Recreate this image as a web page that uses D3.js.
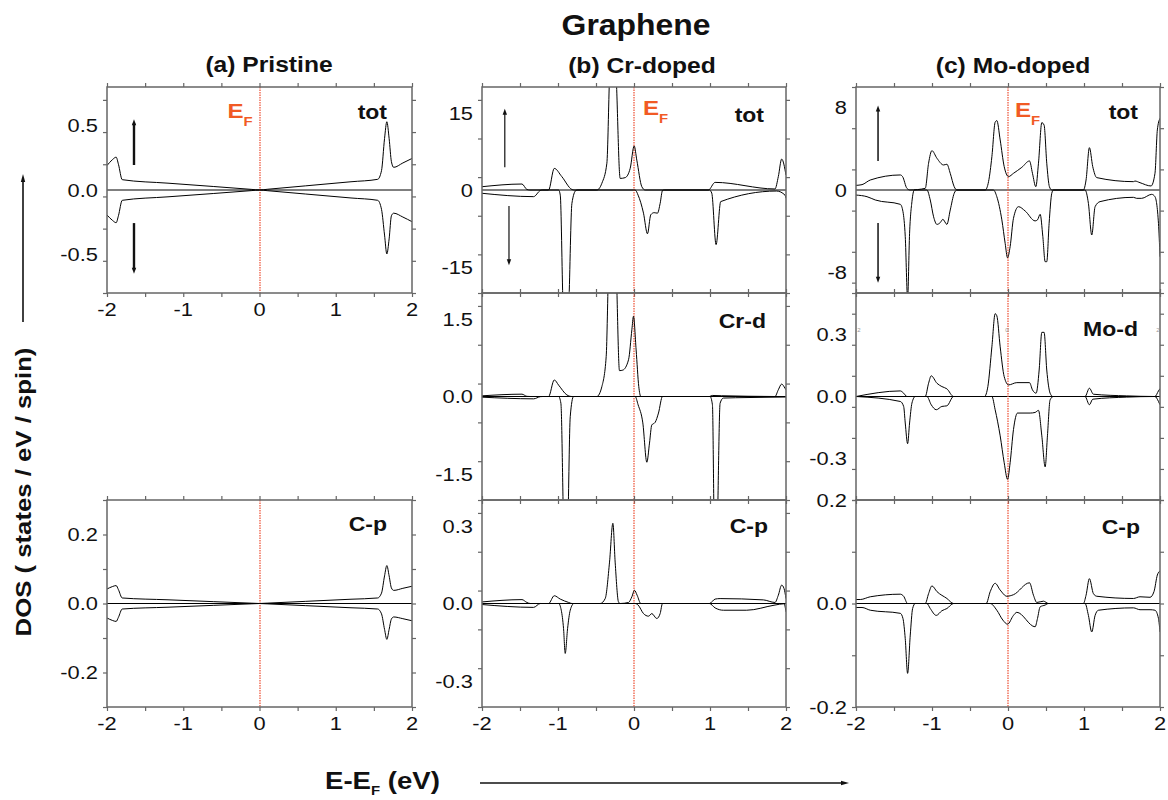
<!DOCTYPE html>
<html><head><meta charset="utf-8">
<script src="https://cdn.jsdelivr.net/npm/d3@7"></script>
<style>body{margin:0;background:#fff}svg{display:block}text{font-family:"Liberation Sans",Arial,sans-serif}</style>
</head><body>
<svg id="c" width="1168" height="800"></svg>
<script>
// ---------- data: [energy (eV), DOS] ----------
const xTicks = [-2,-1,0,1,2];
const aTotUp = [[-2,0.19],[-1.93,0.235],[-1.88,0.255],[-1.85,0.2],[-1.80,0.08],[-1.2,0.053],[-0.6,0.027],[-0.1,0.0045],[0,0],[0.1,0.0054],[0.6,0.032],[1.2,0.064],[1.55,0.083],[1.60,0.15],[1.64,0.4],[1.67,0.53],[1.70,0.4],[1.73,0.22],[1.76,0.176],[1.88,0.21],[2,0.245]];
const aTotDn = [[-2,-0.194],[-1.93,-0.235],[-1.88,-0.254],[-1.85,-0.2],[-1.80,-0.08],[-1.2,-0.053],[-0.6,-0.027],[-0.1,-0.0045],[0,0],[0.1,-0.0052],[0.6,-0.031],[1.2,-0.062],[1.55,-0.08],[1.60,-0.15],[1.64,-0.35],[1.67,-0.497],[1.70,-0.38],[1.73,-0.2],[1.76,-0.18],[1.88,-0.21],[2,-0.246]];
const aCpUp = [[-2,0.042],[-1.93,0.049],[-1.88,0.052],[-1.85,0.04],[-1.80,0.016],[-1.2,0.0107],[-0.6,0.0053],[-0.1,0.0009],[0,0],[0.1,0.001],[0.6,0.0062],[1.2,0.0124],[1.55,0.016],[1.60,0.03],[1.64,0.08],[1.67,0.11],[1.70,0.08],[1.73,0.045],[1.76,0.038],[1.88,0.044],[2,0.05]];
const aCpDn = [[-2,-0.042],[-1.93,-0.049],[-1.88,-0.052],[-1.85,-0.04],[-1.80,-0.016],[-1.2,-0.0107],[-0.6,-0.0053],[-0.1,-0.0009],[0,0],[0.1,-0.001],[0.6,-0.0062],[1.2,-0.0124],[1.55,-0.016],[1.60,-0.03],[1.64,-0.075],[1.67,-0.104],[1.70,-0.075],[1.73,-0.045],[1.76,-0.039],[1.88,-0.044],[2,-0.05]];

const bTotUp = [[-2,0.64],[-1.474,1.16],[-1.409,0.1],[-1.37,0],[-1.124,0],[-1.049,4.2],[-0.95,2.6],[-0.817,0.1],[-0.79,0],[-0.489,0],[-0.423,1.3],[-0.357,5.2],[-0.322,22],[-0.28,35],[-0.234,22],[-0.182,2.25],[-0.116,2.4],[-0.05,4.2],[0.002,8.56],[0.037,5.8],[0.103,0.64],[0.147,0],[0.979,0],[1.067,1.48],[1.855,0.2],[1.899,2.6],[1.943,6.0],[2.0,2.9]];
const bTotDn = [[-2,-0.64],[-1.321,-1.29],[-1.233,-0.1],[-1.2,0],[-0.992,0],[-0.97,-1.0],[-0.935,-22],[-0.9,-35],[-0.857,-22],[-0.817,-2.6],[-0.765,-0.1],[-0.74,0],[0.015,0],[0.054,-1.0],[0.125,-4.5],[0.177,-8.5],[0.221,-4.8],[0.265,-4.4],[0.309,-4.5],[0.344,-2.6],[0.375,-0.1],[0.40,0],[0.992,0],[1.023,-0.6],[1.080,-10.6],[1.141,-2.25],[1.877,-0.2],[1.987,-1.0],[2.0,-1.6]];
const bCrdUp = [[-2,0.013],[-1.474,0.045],[-1.409,0.003],[-1.365,0],[-1.124,0],[-1.049,0.32],[-0.992,0.22],[-0.883,0.03],[-0.817,0],[-0.489,0],[-0.423,0.19],[-0.366,0.77],[-0.335,2.5],[-0.28,4],[-0.234,2.5],[-0.191,0.5],[-0.147,0.51],[-0.072,0.71],[-0.028,1.29],[-0.007,1.55],[0.028,0.9],[0.063,0.19],[0.09,0],[0.992,0],[1.03,0.02],[1.15,0.015],[1.5,0.005],[1.855,0],[1.899,0.13],[1.943,0.24],[1.987,0.16],[2.0,0.13]];
const bCrdDn = [[-2,-0.013],[-1.321,-0.045],[-1.233,-0.003],[-1.2,0],[-0.992,0],[-0.962,-0.13],[-0.927,-2.5],[-0.9,-4],[-0.87,-2.5],[-0.839,-0.39],[-0.795,0],[0.015,0],[0.054,-0.16],[0.116,-0.51],[0.169,-1.27],[0.204,-0.9],[0.234,-0.55],[0.278,-0.5],[0.322,-0.32],[0.375,0],[1.001,0],[1.032,-0.16],[1.054,-2.5],[1.075,-4],[1.098,-2.5],[1.133,-0.13],[1.176,-0.03],[1.5,-0.02],[2.0,-0.01]];
const bCpUp = [[-2,0.006],[-1.474,0.015],[-1.409,0.004],[-1.365,0],[-1.124,0],[-1.049,0.03],[-0.97,0.017],[-0.86,0.004],[-0.817,0],[-0.445,0],[-0.379,0.019],[-0.322,0.16],[-0.278,0.31],[-0.248,0.16],[-0.204,0.006],[-0.182,0],[-0.072,0.004],[-0.028,0.026],[0.006,0.051],[0.041,0.032],[0.09,0],[0.992,0],[1.067,0.017],[1.133,0.019],[1.702,0.014],[1.855,0.004],[1.899,0.032],[1.943,0.071],[1.974,0.058],[2.0,0.019]];
const bCpDn = [[-2,-0.004],[-1.321,-0.015],[-1.233,0],[-0.992,0],[-0.957,-0.026],[-0.927,-0.097],[-0.905,-0.193],[-0.874,-0.097],[-0.839,-0.026],[-0.79,0],[0.015,0],[0.054,-0.006],[0.125,-0.039],[0.191,-0.049],[0.234,-0.039],[0.3,-0.058],[0.344,-0.039],[0.375,0],[0.992,0],[1.067,-0.017],[1.176,-0.026],[1.483,-0.026],[1.855,-0.006],[1.974,-0.001],[2.0,-0.032]];

const cTotUp = [[-2,0.45],[-1.921,0.52],[-1.812,0.97],[-1.417,1.46],[-1.387,1.3],[-1.33,0.16],[-1.29,0],[-1.089,0.16],[-1.045,2.6],[-1.001,3.82],[-0.935,3.08],[-0.848,2.43],[-0.804,2.5],[-0.76,1.62],[-0.708,0.32],[-0.673,0],[-0.3,0],[-0.256,0.81],[-0.212,3.24],[-0.169,6.58],[-0.147,6.74],[-0.103,4.86],[-0.05,2.27],[0.007,1.3],[0.072,1.62],[0.182,2.2],[0.283,2.82],[0.322,1.62],[0.366,0.32],[0.401,2.6],[0.445,6.54],[0.475,6.3],[0.51,2.6],[0.545,0.32],[0.576,0],[0.992,0],[1.027,0.97],[1.071,4.11],[1.115,2.27],[1.168,1.2],[1.65,0.81],[1.671,0.87],[1.737,0.71],[1.882,0.39],[1.934,1.62],[1.965,5.83],[2.0,6.96]];
const cTotDn = [[-2,-0.49],[-1.855,-0.65],[-1.746,-0.97],[-1.417,-1.39],[-1.382,-2.1],[-1.352,-4.5],[-1.321,-10.5],[-1.295,-4.2],[-1.264,-1.13],[-1.233,0],[-1.067,0],[-1.023,-0.97],[-0.979,-2.6],[-0.935,-3.34],[-0.892,-3.17],[-0.857,-2.85],[-0.804,-3.34],[-0.76,-1.94],[-0.708,-0.32],[-0.673,0],[-0.191,0],[-0.147,-0.65],[-0.081,-2.9],[-0.037,-5.2],[-0.006,-6.58],[0.028,-5.5],[0.072,-2.75],[0.138,-1.62],[0.226,-2.04],[0.357,-3.0],[0.388,-2.9],[0.423,-2.36],[0.458,-4.5],[0.489,-6.96],[0.51,-6.96],[0.541,-3.24],[0.576,-0.32],[0.598,0],[1.014,0],[1.058,-1.3],[1.102,-4.37],[1.146,-1.62],[1.211,-1.13],[1.65,-0.71],[1.693,-0.81],[1.759,-0.81],[1.891,-0.42],[1.934,-0.65],[1.98,-3.24],[2.0,-6.48]];
const cModUp = [[-2,0],[-1.417,0.027],[-1.373,0.016],[-1.33,0],[-1.089,0],[-1.045,0.064],[-1.01,0.10],[-0.935,0.064],[-0.87,0.048],[-0.804,0.037],[-0.716,0],[-0.309,0],[-0.265,0.048],[-0.212,0.24],[-0.169,0.40],[-0.147,0.39],[-0.103,0.24],[-0.05,0.096],[0.007,0.056],[0.116,0.067],[0.283,0.067],[0.322,0.032],[0.37,0.016],[0.41,0.128],[0.445,0.31],[0.475,0.31],[0.51,0.128],[0.554,0.016],[0.589,0],[1.014,0],[1.071,0.04],[1.124,0.011],[1.562,0.003],[1.934,0],[1.98,0.027],[2.0,0.038]];
const cModDn = [[-2,0],[-1.417,-0.024],[-1.373,-0.048],[-1.352,-0.128],[-1.321,-0.228],[-1.295,-0.128],[-1.264,-0.032],[-1.22,0],[-1.067,0],[-1.01,-0.04],[-0.944,-0.064],[-0.87,-0.048],[-0.804,-0.045],[-0.716,0],[-0.212,0],[-0.169,-0.064],[-0.103,-0.19],[-0.05,-0.32],[-0.006,-0.40],[0.028,-0.32],[0.072,-0.16],[0.125,-0.08],[0.292,-0.08],[0.357,-0.077],[0.401,-0.067],[0.445,-0.19],[0.489,-0.34],[0.519,-0.19],[0.554,-0.016],[0.598,0],[1.014,0],[1.071,-0.04],[1.115,-0.013],[1.562,-0.003],[1.934,0],[1.98,-0.024],[2.0,-0.04]];
const cCpUp = [[-2,0.0077],[-1.943,0.0077],[-1.812,0.013],[-1.417,0.018],[-1.373,0.014],[-1.321,0],[-1.089,0],[-1.045,0.019],[-1.001,0.034],[-0.935,0.023],[-0.804,0.0097],[-0.716,0],[-0.287,0],[-0.234,0.023],[-0.169,0.039],[-0.103,0.026],[-0.015,0.014],[0.072,0.017],[0.283,0.04],[0.335,0.016],[0.379,0.002],[0.467,0.0045],[0.532,0],[0.992,0],[1.027,0.016],[1.071,0.048],[1.124,0.019],[1.168,0.014],[1.65,0.0097],[1.737,0.013],[1.869,0.012],[1.921,0.023],[1.965,0.055],[2.0,0.063]];
const cCpDn = [[-2,-0.0077],[-1.921,-0.0077],[-1.812,-0.013],[-1.417,-0.019],[-1.382,-0.029],[-1.352,-0.068],[-1.321,-0.135],[-1.286,-0.061],[-1.255,-0.0097],[-1.22,0],[-1.067,0],[-1.023,-0.0097],[-0.944,-0.023],[-0.87,-0.014],[-0.804,-0.0097],[-0.716,0],[-0.234,0],[-0.147,-0.013],[-0.068,-0.032],[-0.006,-0.04],[0.072,-0.023],[0.116,-0.017],[0.357,-0.045],[0.388,-0.029],[0.423,-0.0065],[0.489,-0.003],[0.532,0],[1.014,0],[1.058,-0.023],[1.102,-0.055],[1.146,-0.023],[1.19,-0.013],[1.65,-0.0084],[1.737,-0.012],[1.869,-0.012],[1.934,-0.013],[1.98,-0.029],[2.0,-0.055]];

// y-axis labelled ticks per panel
const aTotTicks = [-0.5,0,0.5], aCpTicks = [-0.2,0,0.2];
const bTotTicks = [-15,0,15], bCrdTicks = [-1.5,0,1.5], bCpTicks = [-0.3,0,0.3];
const cTotTicks = [-8,0,8], cModTicks = [-0.3,0,0.3], cCpTicks = [-0.2,0,0.2];

// ---------- layout ----------
const svg = d3.select('#c');
const SX = 1.15;
const cols = [[107,412],[482,786],[856,1160]];
const rows = [[87,293],[293,500],[500,707]];
const EF_COLOR = '#f15a24';
const EF_LINE = '#ee5a40';
const FRAME = '#666';

function txt(g, x, y, s, size, o={}) {
  const t = g.append('text')
    .attr('transform', `translate(${x},${y}) scale(${o.sx||SX},1)`)
    .attr('font-size', size)
    .attr('font-weight', o.bold ? 'bold' : 'normal')
    .attr('text-anchor', o.anchor || 'start')
    .attr('fill', o.fill || '#111')
    .text(s);
  if (o.dy) t.attr('dy', o.dy);
  return t;
}
const fmt = (dec) => v => (v === 0 ? (dec ? (0).toFixed(dec) : '0') : v.toFixed(dec)).replace('\u2212','-');

svg.append('defs');
let clipId = 0;

function panel(o) {
  const [x0,x1] = cols[o.col], [y0,y1] = rows[o.row];
  const x = d3.scaleLinear().domain([-2,2]).range([x0,x1]);
  const y = d3.scaleLinear().domain([-o.ymax,o.ymax]).range([y1,y0]);
  const g = svg.append('g');
  const id = 'clip' + (clipId++);
  svg.select('defs').append('clipPath').attr('id',id).append('rect')
    .attr('x',x0).attr('y',y0).attr('width',x1-x0).attr('height',y1-y0);
  const yT = d3.range(-o.ymax, o.ymax + o.ystep/2, o.ystep).map(v => +v.toFixed(6));
  const xT = d3.range(-2, 2.25, 0.5);
  const styleAxis = a => { a.select('.domain').remove(); a.selectAll('line').attr('stroke',FRAME).attr('stroke-width',1.2); };
  g.append('g').attr('transform',`translate(${x0},0)`).call(d3.axisLeft(y).tickValues(yT).tickSize(4).tickFormat('')).call(styleAxis);
  g.append('g').attr('transform',`translate(${x1},0)`).call(d3.axisRight(y).tickValues(yT).tickSize(4).tickFormat('')).call(styleAxis);
  g.append('g').attr('transform',`translate(0,${y1})`).call(d3.axisBottom(x).tickValues(xT).tickSize(4).tickFormat('')).call(styleAxis);
  g.append('g').attr('transform',`translate(0,${y0})`).call(d3.axisTop(x).tickValues(xT).tickSize(4).tickFormat('')).call(styleAxis);
  // zero line
  g.append('line').attr('x1',x0).attr('x2',x1).attr('y1',y(0)).attr('y2',y(0)).attr('stroke','#000').attr('stroke-width',1);
  // Fermi level
  const xe = Math.round(x(0));
  g.append('line').attr('x1',xe).attr('x2',xe).attr('y1',y0).attr('y2',y1)
    .attr('stroke',EF_LINE).attr('stroke-width',1.3).attr('stroke-dasharray','1.5,1');
  // curves
  const line = d3.line().x(d => x(d[0])).y(d => y(d[1])).curve(d3.curveMonotoneX);
  const cg = g.append('g').attr('clip-path',`url(#${id})`);
  [o.up, o.dn].forEach(s => cg.append('path').datum(s).attr('d',line).attr('fill','none').attr('stroke','#000').attr('stroke-width',1));
  // frame
  g.append('rect').attr('x',x0).attr('y',y0).attr('width',x1-x0).attr('height',y1-y0)
    .attr('fill','none').attr('stroke',FRAME).attr('stroke-width',1.5);
  // y tick labels
  o.ylabels.forEach(v => txt(g, x0-9, y(v), fmt(o.dec)(v), 19, {anchor:'end', dy:'0.36em'}));
  // x tick labels
  if (o.xlab) xTicks.forEach(v => txt(g, x(v), y1+23, String(v), 19, {anchor:'middle'}));
  // panel label
  txt(g, x1-o.lr, o.lby, o.label, 20, {anchor:'end', bold:true});
  if (o.ef) {
    const t = txt(g, x(0)+o.ef[0], o.ef[1], 'E', 21, {bold:true, fill:EF_COLOR});
    t.append('tspan').attr('font-size',13).attr('dy',8).text('F');
  }
  if (o.arrows) {
    const ar = o.arrows;
    const draw = (e, v1, v2, w) => {
      const xa = x(e), ya = y(v1), yb = y(v2), dir = Math.sign(yb - ya);
      g.append('line').attr('x1',xa).attr('x2',xa).attr('y1',ya).attr('y2',yb - dir*4).attr('stroke','#111').attr('stroke-width',w);
      g.append('path').attr('d',`M${xa},${yb} L${xa-2.2},${yb-dir*6} L${xa+2.2},${yb-dir*6} Z`).attr('fill','#111');
    };
    draw(ar.up[0], ar.up[1], ar.up[2], ar.w);
    draw(ar.dn[0], ar.dn[1], ar.dn[2], ar.w);
  }
  return {g,x,y};
}

panel({col:0,row:0,ymax:0.8,ystep:0.25,up:aTotUp,dn:aTotDn,ylabels:aTotTicks,dec:1,xlab:true,label:'tot',lr:25,lby:119,ef:[-32,118],
  arrows:{up:[-1.646,0.194,0.55],dn:[-1.646,-0.257,-0.65],w:2.4}});
panel({col:0,row:2,ymax:0.3,ystep:0.1,up:aCpUp,dn:aCpDn,ylabels:aCpTicks,dec:1,xlab:true,label:'C-p',lr:25,lby:531});
panel({col:1,row:0,ymax:20,ystep:7.5,up:bTotUp,dn:bTotDn,ylabels:bTotTicks,dec:0,xlab:false,label:'tot',lr:22,lby:122,ef:[9,115],
  arrows:{up:[-1.70,4.44,15.8],dn:[-1.645,-3.09,-14.6],w:1.2}});
panel({col:1,row:1,ymax:2,ystep:0.75,up:bCrdUp,dn:bCrdDn,ylabels:bCrdTicks,dec:1,xlab:false,label:'Cr-d',lr:20,lby:328});
panel({col:1,row:2,ymax:0.4,ystep:0.15,up:bCpUp,dn:bCpDn,ylabels:bCpTicks,dec:1,xlab:true,label:'C-p',lr:18,lby:533});
panel({col:2,row:0,ymax:10,ystep:4,up:cTotUp,dn:cTotDn,ylabels:cTotTicks,dec:0,xlab:false,label:'tot',lr:22,lby:119,ef:[7,117],
  arrows:{up:[-1.71,2.82,8.2],dn:[-1.71,-3.2,-9.0],w:1.5}});
const mo = panel({col:2,row:1,ymax:0.5,ystep:0.15,up:cModUp,dn:cModDn,ylabels:cModTicks,dec:1,xlab:false,label:'Mo-d',lr:22,lby:336});
panel({col:2,row:2,ymax:0.2,ystep:0.1,up:cCpUp,dn:cCpDn,ylabels:cCpTicks,dec:1,xlab:true,label:'C-p',lr:20,lby:534});

// stray tiny labels in Mo-d panel
[[-2,3,'2'],[0,-1,'0'],[2,-2,'2']].forEach(([e,dx,s]) => txt(mo.g, mo.x(e)+dx, mo.y(0.3)-2, s, 6, {anchor:'middle', fill:'#999', sx:1}));

// titles
txt(svg, 636, 35, 'Graphene', 29, {anchor:'middle', bold:true, sx:1.1});
txt(svg, 269, 72, '(a) Pristine', 22, {anchor:'middle', bold:true, sx:1.12});
txt(svg, 642, 73, '(b) Cr-doped', 22, {anchor:'middle', bold:true, sx:1.12});
txt(svg, 1013, 73, '(c) Mo-doped', 22, {anchor:'middle', bold:true, sx:1.12});

// axis titles
svg.append('text').attr('transform','translate(31,492) rotate(-90) scale(1.17,1)')
  .attr('text-anchor','middle').attr('font-size',22).attr('font-weight','bold').attr('fill','#111')
  .text('DOS ( states / eV / spin)');
const xl = txt(svg, 325, 789, 'E-E', 24, {bold:true});
xl.append('tspan').attr('font-size',13).attr('dy',6).text('F');
xl.append('tspan').attr('dy',-6).text(' (eV)');

// long arrows
svg.append('line').attr('x1',23).attr('x2',23).attr('y1',322).attr('y2',180).attr('stroke','#111').attr('stroke-width',1.6);
svg.append('path').attr('d','M23,174 L20.8,182 L25.2,182 Z').attr('fill','#111');
svg.append('line').attr('x1',480).attr('x2',842).attr('y1',783).attr('y2',783).attr('stroke','#111').attr('stroke-width',1.6);
svg.append('path').attr('d','M849,783 L841,780.8 L841,785.2 Z').attr('fill','#111');
</script>
</body></html>
